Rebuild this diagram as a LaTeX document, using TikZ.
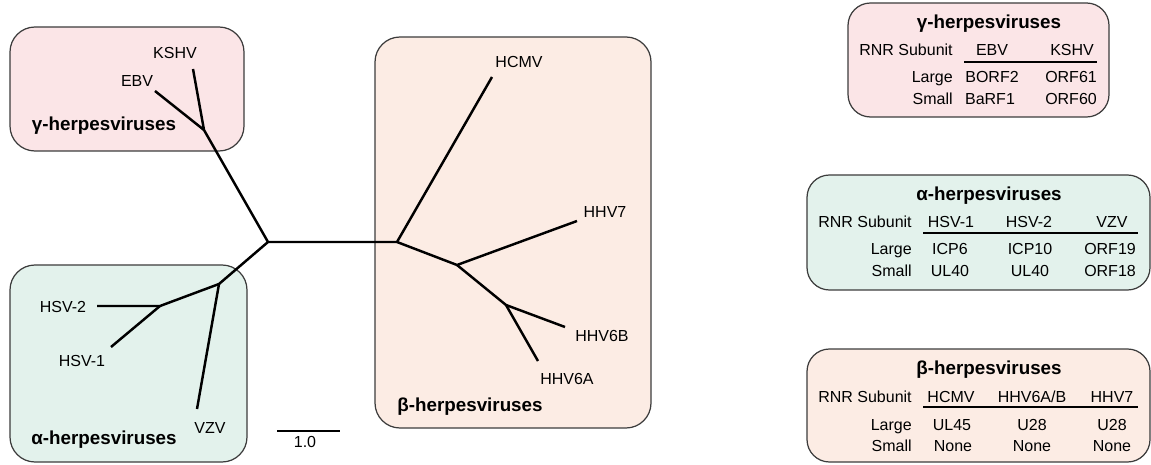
\documentclass[tikz,border=0pt]{standalone}
\usepackage{fontspec}
\setmainfont{Liberation Sans}

\definecolor{gampink}{RGB}{251,229,231}
\definecolor{alpgreen}{RGB}{227,242,236}
\definecolor{betpeach}{RGB}{252,236,228}
\definecolor{boxline}{RGB}{60,60,60}

\begin{document}
\begin{tikzpicture}[x=0.02cm,y=-0.02cm,
        branch/.style={line width=1.4pt, line join=round},
        grpbox/.style={draw=boxline, line width=0.7pt, rounded corners=0.5cm},
        tabbox/.style={draw=boxline, line width=0.7pt, rounded corners=0.45cm},
        lbl/.style={inner sep=0pt, anchor=base, font=\fontsize{9.1}{11}\selectfont},
        rlbl/.style={lbl, anchor=base east},
        grp/.style={inner sep=0pt, anchor=base, font=\bfseries\fontsize{10.7}{13}\selectfont}]
        \useasboundingbox (0,0) rectangle (1151,465);
        % group boxes
            \filldraw[grpbox, fill=gampink] (10,27) rectangle (244,151);
            \filldraw[grpbox, fill=alpgreen] (10,265) rectangle (247,462);
            \filldraw[grpbox, fill=betpeach] (375,37) rectangle (651,428);
            \node[grp] (gamlbl) at (104,131) {γ-herpesviruses};
            \node[grp] (alplbl) at (104,444) {α-herpesviruses};
            \node[grp] (betlbl) at (470,411) {β-herpesviruses};
        % tree points
            \coordinate (root) at (268,242);
            \coordinate (gam) at (204,130);
            \coordinate (kshvtip) at (193,69);
            \coordinate (ebvtip) at (155,91);
            \coordinate (alp) at (219,284);
            \coordinate (hsv) at (160,306);
            \coordinate (hsv2tip) at (97,306);
            \coordinate (hsv1tip) at (111,347);
            \coordinate (vzvtip) at (197,409);
            \coordinate (bet) at (397,242);
            \coordinate (hcmvtip) at (492,77);
            \coordinate (bet2) at (457,265);
            \coordinate (hhv7tip) at (577,221);
            \coordinate (bet3) at (506,305);
            \coordinate (hhv6btip) at (565,327);
            \coordinate (hhv6atip) at (538,361);
        % branches
            \draw[branch] (kshvtip) -- (gam) -- (root) -- (bet) -- (hcmvtip);
            \draw[branch] (ebvtip) -- (gam);
            \draw[branch] (root) -- (alp) -- (hsv) -- (hsv2tip);
            \draw[branch] (hsv) -- (hsv1tip);
            \draw[branch] (alp) -- (vzvtip);
            \draw[branch] (bet) -- (bet2) -- (hhv7tip);
            \draw[branch] (bet2) -- (bet3) -- (hhv6btip);
            \draw[branch] (bet3) -- (hhv6atip);
        % tip labels
            \node[lbl] (kshv) at (175,59) {KSHV};
            \node[lbl] (ebv) at (137,87) {EBV};
            \node[lbl] (hsv2) at (63,313) {HSV-2};
            \node[lbl] (hsv1) at (82,366) {HSV-1};
            \node[lbl] (vzv) at (210,433) {VZV};
            \node[lbl] (hcmv) at (519,68) {HCMV};
            \node[lbl] (hhv7) at (605,218) {HHV7};
            \node[lbl] (hhv6b) at (602,341) {HHV6B};
            \node[lbl] (hhv6a) at (567,384) {HHV6A};
        % scale bar
            \coordinate (barl) at (277,431);
            \coordinate (barr) at (340,431);
            \draw[line width=1.2pt] (barl) -- (barr);
            \node[lbl] (barlbl) at (305,447) {1.0};
        % gamma table
            \filldraw[tabbox, fill=gampink] (848,3) rectangle (1109,117);
            \node[grp] (gamtitle) at (989,29) {γ-herpesviruses};
            \node[rlbl] (gamhead) at (953,56) {RNR Subunit};
            \node[lbl] (gamebv) at (992,56) {EBV};
            \node[lbl] (gamkshv) at (1072,56) {KSHV};
            \coordinate (gamrulel) at (964,62);
            \coordinate (gamruler) at (1097,62);
            \draw[line width=0.7pt] (gamrulel) -- (gamruler);
            \node[rlbl] (gamlarge) at (953,83) {Large};
            \node[lbl] (gamborf) at (992,83) {BORF2};
            \node[lbl] (gamorfl) at (1071,83) {ORF61};
            \node[rlbl] (gamsmall) at (953,105) {Small};
            \node[lbl] (gambarf) at (990,105) {BaRF1};
            \node[lbl] (gamorfs) at (1071,105) {ORF60};
        % alpha table
            \filldraw[tabbox, fill=alpgreen] (807,175) rectangle (1150,290);
            \node[grp] (alptitle) at (989,201) {α-herpesviruses};
            \node[rlbl] (alphead) at (912,228) {RNR Subunit};
            \node[lbl] (alphsva) at (951,228) {HSV-1};
            \node[lbl] (alphsvb) at (1029,228) {HSV-2};
            \node[lbl] (alpvzv) at (1112,228) {VZV};
            \coordinate (alprulel) at (923,233);
            \coordinate (alpruler) at (1138,233);
            \draw[line width=0.7pt] (alprulel) -- (alpruler);
            \node[rlbl] (alplarge) at (912,255) {Large};
            \node[lbl] (alpicpa) at (950,255) {ICP6};
            \node[lbl] (alpicpb) at (1030,255) {ICP10};
            \node[lbl] (alporfl) at (1110,255) {ORF19};
            \node[rlbl] (alpsmall) at (912,277) {Small};
            \node[lbl] (alpula) at (950,277) {UL40};
            \node[lbl] (alpulb) at (1030,277) {UL40};
            \node[lbl] (alporfs) at (1110,277) {ORF18};
        % beta table
            \filldraw[tabbox, fill=betpeach] (807,349) rectangle (1150,462);
            \node[grp] (bettitle) at (989,374) {β-herpesviruses};
            \node[rlbl] (bethead) at (912,402) {RNR Subunit};
            \node[lbl] (bethcmv) at (951,402) {HCMV};
            \node[lbl] (bethhvsix) at (1032,402) {HHV6A/B};
            \node[lbl] (bethhvseven) at (1112,402) {HHV7};
            \coordinate (betrulel) at (923,407);
            \coordinate (betruler) at (1138,407);
            \draw[line width=0.7pt] (betrulel) -- (betruler);
            \node[rlbl] (betlarge) at (912,430) {Large};
            \node[lbl] (betula) at (952,430) {UL45};
            \node[lbl] (betua) at (1032,430) {U28};
            \node[lbl] (betub) at (1112,430) {U28};
            \node[rlbl] (betsmall) at (912,451) {Small};
            \node[lbl] (betnonea) at (953,451) {None};
            \node[lbl] (betnoneb) at (1032,451) {None};
            \node[lbl] (betnonec) at (1112,451) {None};
    \end{tikzpicture}
\end{document}
